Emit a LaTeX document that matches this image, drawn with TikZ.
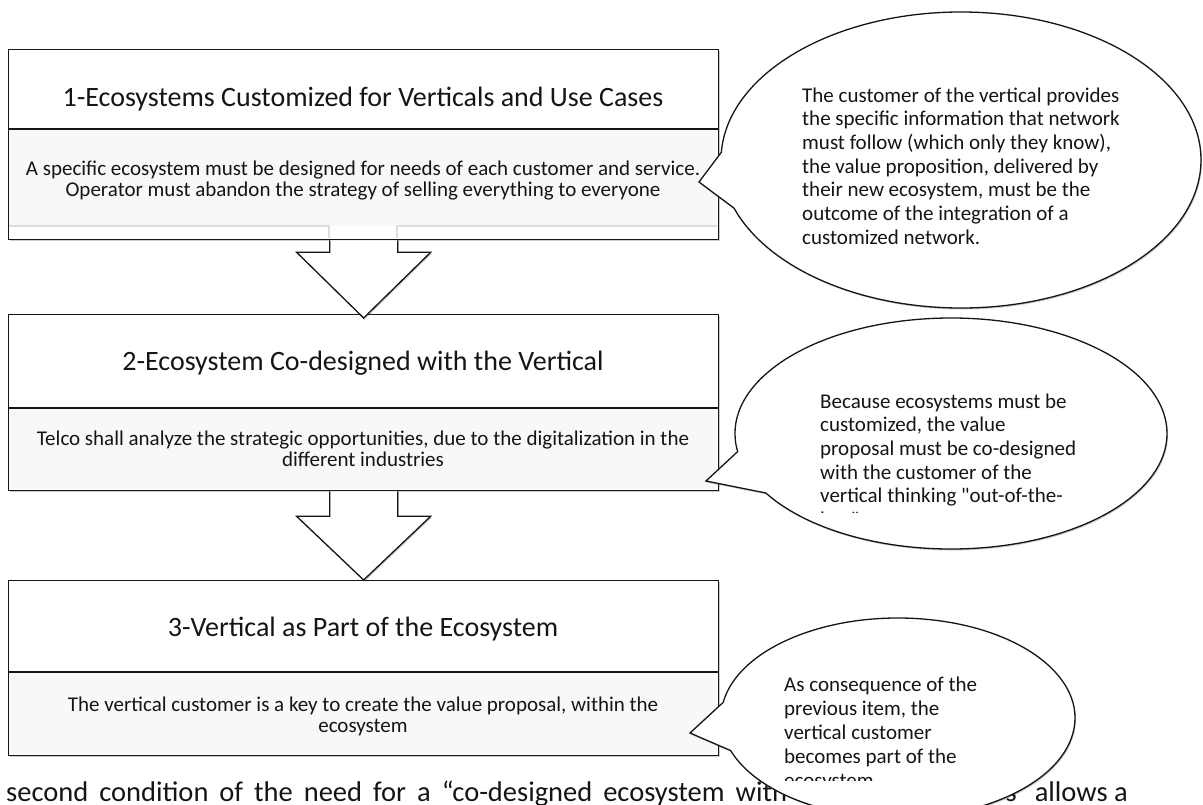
\documentclass[tikz,border=0pt]{standalone}
\usepackage{fontspec}
\setmainfont{Carlito}[Ligatures=TeXOff]
\usetikzlibrary{calc,shadows}

\definecolor{ink}{HTML}{151515}
\definecolor{panel}{HTML}{F8F8F8}
\definecolor{faintline}{HTML}{DCDCDC}

\newcommand\stagetitle{\fontsize{28}{32}\selectfont}
\newcommand\stagebody{\fontsize{21}{21.5}\selectfont}
\newcommand\notebody{\fontsize{21}{23.7}\selectfont}
\newcommand\prosebody{\fontsize{28.5}{32}\selectfont}

\begin{document}
\begin{tikzpicture}[x=1pt,y=1pt,
  softshadow/.style={drop shadow={shadow xshift=1pt,shadow yshift=-1.5pt,fill=black,opacity=0.2}},
  stagebox/.style={draw=ink,line width=1.3pt,fill=white,softshadow,inner sep=0pt,
                   anchor=north west,minimum width=710pt},
  rule/.style={draw=ink,line width=1.3pt},
  faint/.style={draw=faintline,line width=1.2pt},
  blockarrow/.style={draw=ink,line width=1.3pt,fill=white,line join=miter,softshadow},
  bubble/.style={draw=ink,line width=1.3pt,fill=white,line join=miter,softshadow},
  caption/.style={inner sep=0pt,text=ink,anchor=base},
  note/.style={inner sep=0pt,text=ink,anchor=base west},
]
\useasboundingbox (0,0) rectangle (1203,-804);

% ---------- stage 1 ----------
\node[stagebox,minimum height=190pt] (s1) at (8,-49) {};
\fill[panel] (8.7,-129) rectangle (717.3,-226);
\draw[faint] (8.7,-226) -- (329,-226) -- (329,-238.4);
\draw[faint] (397,-238.4) -- (397,-226) -- (717.3,-226);
\draw[rule] (8,-129) -- (718,-129);
\node[caption] (s1t) at (363,-106) {\stagetitle 1-Ecosystems Customized for Verticals and Use Cases};
\node[caption] (s1b) at (363,-175) {\parbox[t]{705pt}{\centering\stagebody
  A specific ecosystem must be designed for needs of each customer and service.\\
  Operator must abandon the strategy of selling everything to everyone}};

% ---------- stage 2 ----------
\node[stagebox,minimum height=176pt] (s2) at (8,-314) {};
\fill[panel] (8.7,-408) rectangle (717.3,-489.3);
\draw[rule] (8,-408) -- (718,-408);
\node[caption] (s2t) at (363,-370) {\stagetitle 2-Ecosystem Co-designed with the Vertical};
\node[caption] (s2b) at (363,-445) {\parbox[t]{705pt}{\centering\stagebody
  Telco shall analyze the strategic opportunities, due to the digitalization in the\\
  different industries}};

% ---------- stage 3 ----------
\node[stagebox,minimum height=175pt] (s3) at (8,-580) {};
\fill[panel] (8.7,-672) rectangle (717.3,-754.3);
\draw[rule] (8,-672) -- (718,-672);
\node[caption] (s3t) at (363,-636) {\stagetitle 3-Vertical as Part of the Ecosystem};
\node[caption] (s3b) at (363,-711) {\parbox[t]{705pt}{\centering\stagebody
  The vertical customer is a key to create the value proposal, within the\\
  ecosystem}};

% ---------- block arrows between stages ----------
\draw[blockarrow] ($(s1.south)+(-34,0)$) -- ++(0,-12) -- ++(-33,0)
  -- ($(s2.north)+(0,-4)$) -- ($(s1.south)+(67,-12)$) -- ++(-33,0) -- ++(0,12);
\draw[blockarrow] ($(s2.south)+(-34,0)$) -- ++(0,-25) -- ++(-33,0)
  -- (s3.north) -- ($(s2.south)+(67,-25)$) -- ++(-33,0) -- ++(0,25);

% ---------- running text below the figure ----------
\node[note] (q1) at (6,-801) {\prosebody\makebox[781pt][s]{second condition of the need for a “co-designed ecosystem with}};
\node[inner sep=0pt,text=ink,anchor=base east] (q2) at (1128,-801) {\prosebody s”\hspace{6pt}allows a};

% ---------- speech bubbles ----------
\coordinate (e1) at (961,-160);
\coordinate (k1) at (699,-182);
\draw[bubble] ($(e1)+(177:240pt and 148pt)$)
  arc[start angle=177,end angle=-161,x radius=240pt,y radius=148pt] -- (k1) -- cycle;
\node[note] (n1) at (802,-102) {\parbox[t]{340pt}{\raggedright\notebody
  The customer of the vertical provides\\
  the specific information that network\\
  must follow (which only they know),\\
  the value proposition, delivered by\\
  their new ecosystem, must be the\\
  outcome of the integration of a\\
  customized network.}};

\coordinate (e2) at (951,-433.5);
\coordinate (k2) at (706,-481);
\draw[bubble] ($(e2)+(189:216pt and 115.5pt)$)
  arc[start angle=189,end angle=-149,x radius=216pt,y radius=115.5pt] -- (k2) -- cycle;
\begin{scope}
  \clip (760,-370) rectangle (1150,-512);
  \node[note] (n2) at (820,-408) {\parbox[t]{320pt}{\raggedright\notebody
    Because ecosystems must be\\
    customized, the value\\
    proposal must be co-designed\\
    with the customer of the\\
    vertical thinking "out-of-the-\\
    box"}};
\end{scope}

\coordinate (e3) at (898,-718);
\coordinate (k3) at (690,-733);
\draw[bubble] ($(e3)+(171:177pt and 100pt)$)
  arc[start angle=171,end angle=-161,x radius=177pt,y radius=100pt] -- (k3) -- cycle;
\begin{scope}
  \clip (760,-640) rectangle (1100,-780.5);
  \node[note] (n3) at (784,-691) {\parbox[t]{260pt}{\raggedright\fontsize{21}{24}\selectfont
    As consequence of the\\
    previous item, the\\
    vertical customer\\
    becomes part of the\\
    ecosystem}};
\end{scope}

\end{tikzpicture}
\end{document}
